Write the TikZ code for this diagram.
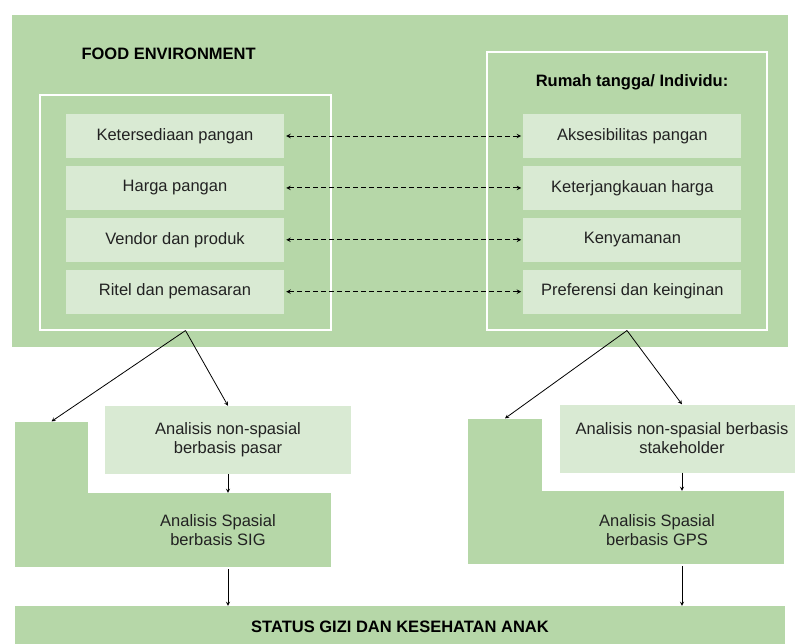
\documentclass[tikz,border=0pt]{standalone}
\usepackage{fontspec}
\setmainfont{Liberation Sans}
\usepackage{xcolor}
\definecolor{grn00}{HTML}{B6D7A8}
\definecolor{grn01}{HTML}{D9EAD3}
\definecolor{txt00}{HTML}{222222}
\usepackage{tikz}
\usetikzlibrary{positioning}
\usetikzlibrary{arrows}
\tikzstyle{panel} = [rectangle, inner sep=0pt, fill=grn00, text=txt00]
\tikzstyle{frame} = [rectangle, inner sep=0pt, draw=white, line width=1.1pt]
\tikzstyle{factor} = [rectangle, minimum width=218pt, minimum height=44pt, inner sep=0pt, fill=grn01, text=txt00]
\tikzstyle{analysis} = [rectangle, minimum height=68pt, inner sep=0pt, fill=grn01, text=txt00]
\tikzstyle{heading} = [font=\fontsize{16.5}{19}\selectfont\bfseries, text=black]
\tikzstyle{link_arr} = [<->,>=stealth, dash pattern=on 5pt off 3pt, line width=1pt, black, shorten >=2pt, shorten <=2pt]
\tikzstyle{flow_arr} = [->,>=stealth, line width=0.8pt, black]

\begin{document}
\begin{tikzpicture}[x=1pt,y=-1pt,align=center,font=\fontsize{16.5}{19}\selectfont]
    \useasboundingbox (0,0) rectangle (795,643);
    % food environment
    \node (env)[panel, minimum width=776pt, minimum height=332pt] at (400,181) {};
    \node (envtitle)[heading, anchor=west] at (78,54) {FOOD ENVIRONMENT};
    \node (supply)[frame, minimum width=291pt, minimum height=235pt] at (185.5,212.5) {};
    \node (house)[frame, minimum width=280pt, minimum height=278pt] at (627,191) {};
    \node (housetitle)[heading] at (632,82) {Rumah tangga/ Individu:};
    \node (s1)[factor] at (175,136) {Ketersediaan pangan};
    \node (s2)[factor, below=7.5pt of s1] {Harga pangan};
    \node (s3)[factor, below=7.5pt of s2] {Vendor dan produk};
    \node (s4)[factor, below=7.5pt of s3] {Ritel dan pemasaran};
    \node (h1)[factor, right=239pt of s1] {Aksesibilitas pangan};
    \node (h2)[factor, right=239pt of s2] {Keterjangkauan harga};
    \node (h3)[factor, right=239pt of s3] {Kenyamanan};
    \node (h4)[factor, right=239pt of s4] {Preferensi dan keinginan};
    \draw [link_arr] (s1.east) -- (h1.west);
    \draw [link_arr] (s2.east) -- (h2.west);
    \draw [link_arr] (s3.east) -- (h3.west);
    \draw [link_arr] (s4.east) -- (h4.west);
    % analysis, left
    \node (sigbox)[panel, minimum width=316pt, minimum height=74pt] at (173,530) {};
    \node (sigtab)[panel, minimum width=73pt, minimum height=72pt, anchor=south west, yshift=-1pt] at (sigbox.north west) {};
    \node (sig)[text=txt00] at (218,530) {Analisis Spasial\\berbasis SIG};
    \node (nsp)[analysis, minimum width=246pt] at (228,440) {Analisis non-spasial\\berbasis pasar};
    % analysis, right
    \node (gpsbox)[panel, minimum width=316pt, minimum height=73pt] at (626,527.5) {};
    \node (gpstab)[panel, minimum width=74pt, minimum height=73pt, anchor=south west, yshift=-1pt] at (gpsbox.north west) {};
    \node (gps)[text=txt00] at (657,530) {Analisis Spasial\\berbasis GPS};
    \node (nsp2)[analysis, minimum width=244pt] at (682,438.5) {Analisis non-spasial berbasis\\stakeholder};
    % outcome
    \node (status)[panel, minimum width=770pt, minimum height=40pt] at (400,626) {};
    \node (statustxt)[heading] at (400,627) {STATUS GIZI DAN KESEHATAN ANAK};
    \draw [flow_arr] (supply.south) -- (sigtab.north);
    \draw [flow_arr] (supply.south) -- (nsp.north);
    \draw [flow_arr] (nsp.south) -- (nsp.south |- sigbox.north);
    \draw [flow_arr, shorten <=2pt] (nsp.south |- sigbox.south) -- (nsp.south |- status.north);
    \draw [flow_arr] (house.south) -- (gpstab.north);
    \draw [flow_arr] (house.south) -- (nsp2.north);
    \draw [flow_arr] (nsp2.south) -- (nsp2.south |- gpsbox.north);
    \draw [flow_arr, shorten <=2pt] (nsp2.south |- gpsbox.south) -- (nsp2.south |- status.north);
\end{tikzpicture}
\end{document}
